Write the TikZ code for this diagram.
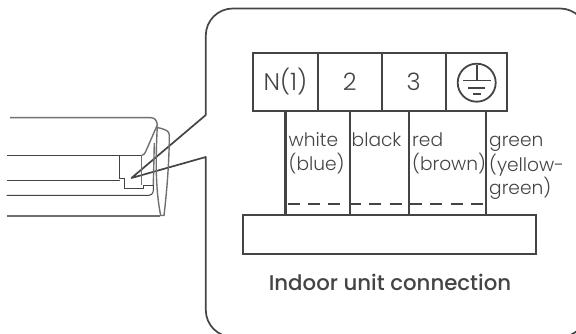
\documentclass[tikz,border=0pt]{standalone}
\usepackage{fontspec}
\setmainfont{Poppins}[UprightFont=* Light]
\newfontfamily\captionfont{Poppins}[UprightFont=* Medium]
\usetikzlibrary{positioning,calc}
\definecolor{inkgray}{HTML}{444444}
\definecolor{unitgray}{HTML}{707070}
\tikzset{
    termcell/.style={draw=inkgray, line width=2.1pt, minimum height=58.3pt, outer sep=0pt, inner sep=0pt, text=inkgray, font=\fontsize{24}{28}\selectfont},
    wirelabel/.style={anchor=base west, align=left, inner sep=0pt, text=inkgray, font=\fontsize{18.6}{24}\selectfont},
    wire/.style={draw=inkgray, line width=2.1pt},
    earthline/.style={draw=inkgray, line width=1.8pt},
    unitline/.style={draw=unitgray, line width=1.4pt},
    unitdark/.style={draw=inkgray, line width=1pt}
}
\begin{document}
\begin{tikzpicture}[x=1pt, y=-1pt]
\useasboundingbox (0,0) rectangle (576,334);
\coordinate (tip) at (131.5,178);
\coordinate (calloutA) at (205.8,115);
\coordinate (calloutB) at (205.8,157);
\begin{scope}
    \clip (0,0) rectangle (576,334);
    \draw[draw=inkgray, line width=1.7pt, line join=round] (calloutB) [rounded corners=27pt] -- (205.8,337) -- (587,337) -- (587,8.5) -- (205.8,8.5) [sharp corners] -- (calloutA) -- (tip) -- cycle;
\end{scope}
\draw[unitline] (10,117.7) -- (151,117.7) .. controls (155,117.7) and (157,121) .. (157.3,125) -- (145.5,152) .. controls (145,153.5) and (144,154.5) .. (142,155.3);
\draw[unitdark] (142,155.3) -- (6.7,155.3);
\draw[unitline] (141.7,155) -- (141.7,185);
\draw[unitdark] (119.5,155) -- (119.5,178.5) -- (124,178.5) -- (124,188.5) -- (143.5,188.5) -- (143.5,185.5) -- (153.3,185.5);
\draw[unitdark] (6.7,180.5) -- (120,180.5);
\draw[unitdark] (6.7,195.5) -- (147,195.5) .. controls (151,195.5) and (153.3,194) .. (153.3,190) -- (153.3,185);
\draw[unitline] (6.7,216) -- (160,216);
\draw[unitline] (154.3,143) -- (153.3,185);
\draw[unitline] (157.3,126.5) .. controls (155.5,160) and (155.5,190) .. (160.7,215.5) -- (164,215.5) .. controls (167,190) and (169.3,160) .. (169.3,135) .. controls (169.3,131) and (166,129.5) .. (157.3,127.5);
\node[termcell, minimum width=64.4pt, anchor=north west] (termN) at (253.3,52.7) {N(1)};
\node[termcell, minimum width=64pt, right=0pt of termN] (termTwo) {2};
\node[termcell, minimum width=64pt, right=0pt of termTwo] (termThree) {3};
\node[termcell, minimum width=61pt, right=0pt of termThree] (termEarth) {};
\node[draw=inkgray, line width=2.1pt, minimum width=292.7pt, minimum height=39.3pt, outer sep=0pt, anchor=north west] (baseBox) at (243.3,215) {};
\draw[wire] (termN.south) -- (termN.south |- baseBox.north);
\draw[wire] (termTwo.south) -- (termTwo.south |- baseBox.north);
\draw[wire] ([xshift=-4.4pt]termThree.south) -- ([xshift=-4.4pt]termThree.south |- baseBox.north);
\draw[wire] ([xshift=10pt]termEarth.south) -- ([xshift=10pt]termEarth.south |- baseBox.north);
\draw[draw=inkgray, line width=2pt, dash pattern=on 12pt off 8.4pt] (287.5,204.4) -- (485,204.4);
\draw[earthline] (476.7,82.7) circle (19);
\draw[earthline] (476.7,65) -- (476.7,80);
\draw[earthline] (463,80.5) -- (491,80.5);
\draw[earthline] (468,87.7) -- (485,87.7);
\draw[earthline] (473,94.3) -- (481,94.3);
\node[wirelabel] (lblWhite) at (288.5,171) {white\\(blue)};
\node[wirelabel] (lblBlack) at (351.5,147) {black};
\node[wirelabel] (lblRed) at (412,171) {red\\(brown)};
\node[wirelabel] (lblGreen) at (489,195) {green\\(yellow-\\green)};
\node[anchor=base, inner sep=0pt, text=inkgray, font=\captionfont\fontsize{21.3}{25}\selectfont] (caption) at (390,290) {Indoor unit connection};
\end{tikzpicture}
\end{document}
